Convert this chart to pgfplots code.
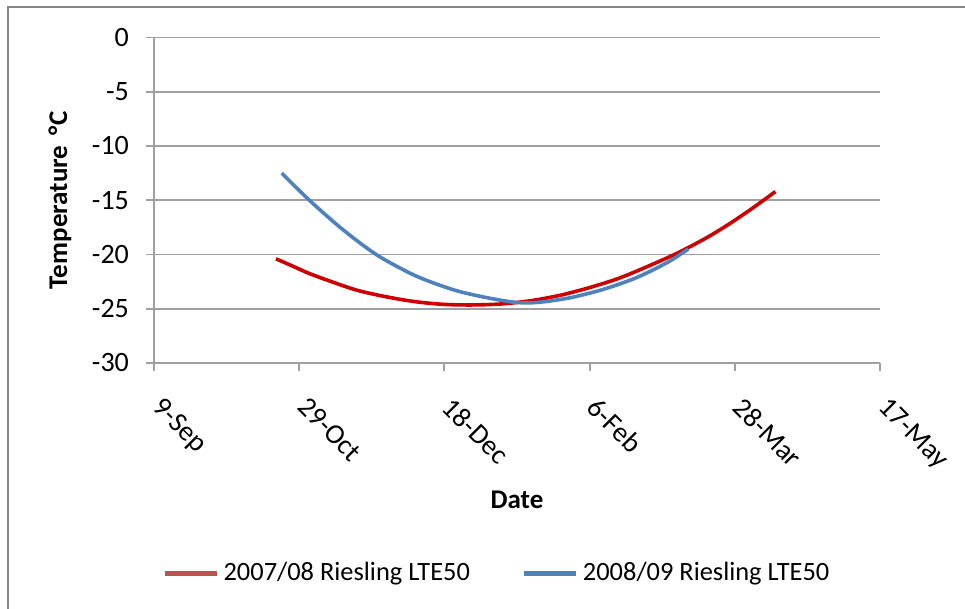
\documentclass[border=0pt]{standalone}
\usepackage{fontspec}
\setmainfont{Carlito}
\usepackage{pgfplots}
\pgfplotsset{compat=1.18}
\definecolor{redline}{RGB}{204,0,0}
\definecolor{blueline}{RGB}{79,129,189}
\definecolor{legred}{RGB}{192,80,77}
\definecolor{legblue}{RGB}{79,129,189}
\definecolor{gridgray}{RGB}{160,160,160}
\definecolor{framegray}{RGB}{134,134,134}
\begin{document}
\fontsize{13}{15.6}\selectfont
\begin{tikzpicture}
\path[use as bounding box] (0,0) rectangle (482.5pt,304.5pt);
\draw[framegray, line width=1pt] (4pt,0) -- (4pt,300.75pt) -- (482.5pt,300.75pt);
\begin{axis}[
  at={(77pt,123pt)}, anchor=south west,
  scale only axis, width=363pt, height=162.75pt,
  xmin=0, xmax=250, ymin=-30, ymax=0,
  xtick={0,50,...,250},
  xticklabels={9-Sep,29-Oct,18-Dec,6-Feb,28-Mar,17-May},
  ytick={-30,-25,...,0},
  axis x line=bottom, axis y line=left,
  axis line style={-, gridgray, line width=0.9pt},
  tick align=outside, major tick length=4pt,
  tick style={gridgray, line width=0.9pt},
  ymajorgrids, grid style={gridgray, line width=0.9pt},
  /pgf/number format/assume math mode=true,
  tick label style={font=\fontsize{14}{16.8}\selectfont},
  yticklabel style={anchor=east, xshift=-4pt},
  xticklabel style={yshift=-6pt, xshift=5pt, rotate=-45, anchor=north west},
  xlabel={Date}, ylabel={Temperature \,°C},
  label style={font=\fontsize{13.5}{16}\selectfont\bfseries},
  xlabel style={at={(axis description cs:0.5,-0.4209)}, anchor=center},
  ylabel style={at={(axis description cs:-0.1295,0.5)}, anchor=center},
  legend style={at={(0.4738,-0.6452)}, anchor=center, draw=none, fill=none,
    font=\fontsize{13.2}{16}\selectfont, inner sep=0pt,
    /tikz/every even column/.append style={column sep=24pt}},
  legend columns=2,
]
\addplot[redline, line width=1.8pt, smooth, no markers,
  legend image code/.code={\draw[legred, line width=2.5pt] (0pt,0pt) -- (26pt,0pt);}]
  coordinates {
  (42,-20.4) (48,-21.1) (53,-21.7) (60,-22.4) (70,-23.3) (80,-23.9)
  (90,-24.35) (100,-24.6) (110,-24.65) (120,-24.55) (130,-24.25)
  (140,-23.75) (150,-23.05) (160,-22.2) (170,-21.1) (180,-19.9)
  (190,-18.5) (198,-17.2) (206,-15.75) (214,-14.2)
  };
\addlegendentry{2007/08 Riesling LTE50}
\addplot[blueline, line width=1.8pt, smooth, no markers,
  legend image code/.code={\draw[legblue, line width=2.5pt] (0pt,0pt) -- (26pt,0pt);}]
  coordinates {
  (44,-12.5) (53.5,-15) (65,-17.7) (76.5,-20) (88,-21.7) (96,-22.6)
  (105,-23.4) (115,-24.0) (124,-24.4) (130,-24.45) (136,-24.3)
  (144,-23.95) (153,-23.35) (160,-22.75) (166,-22.15) (172,-21.4)
  (178,-20.55) (184,-19.5)
  };
\addlegendentry{2008/09 Riesling LTE50}
\end{axis}
\end{tikzpicture}
\end{document}
